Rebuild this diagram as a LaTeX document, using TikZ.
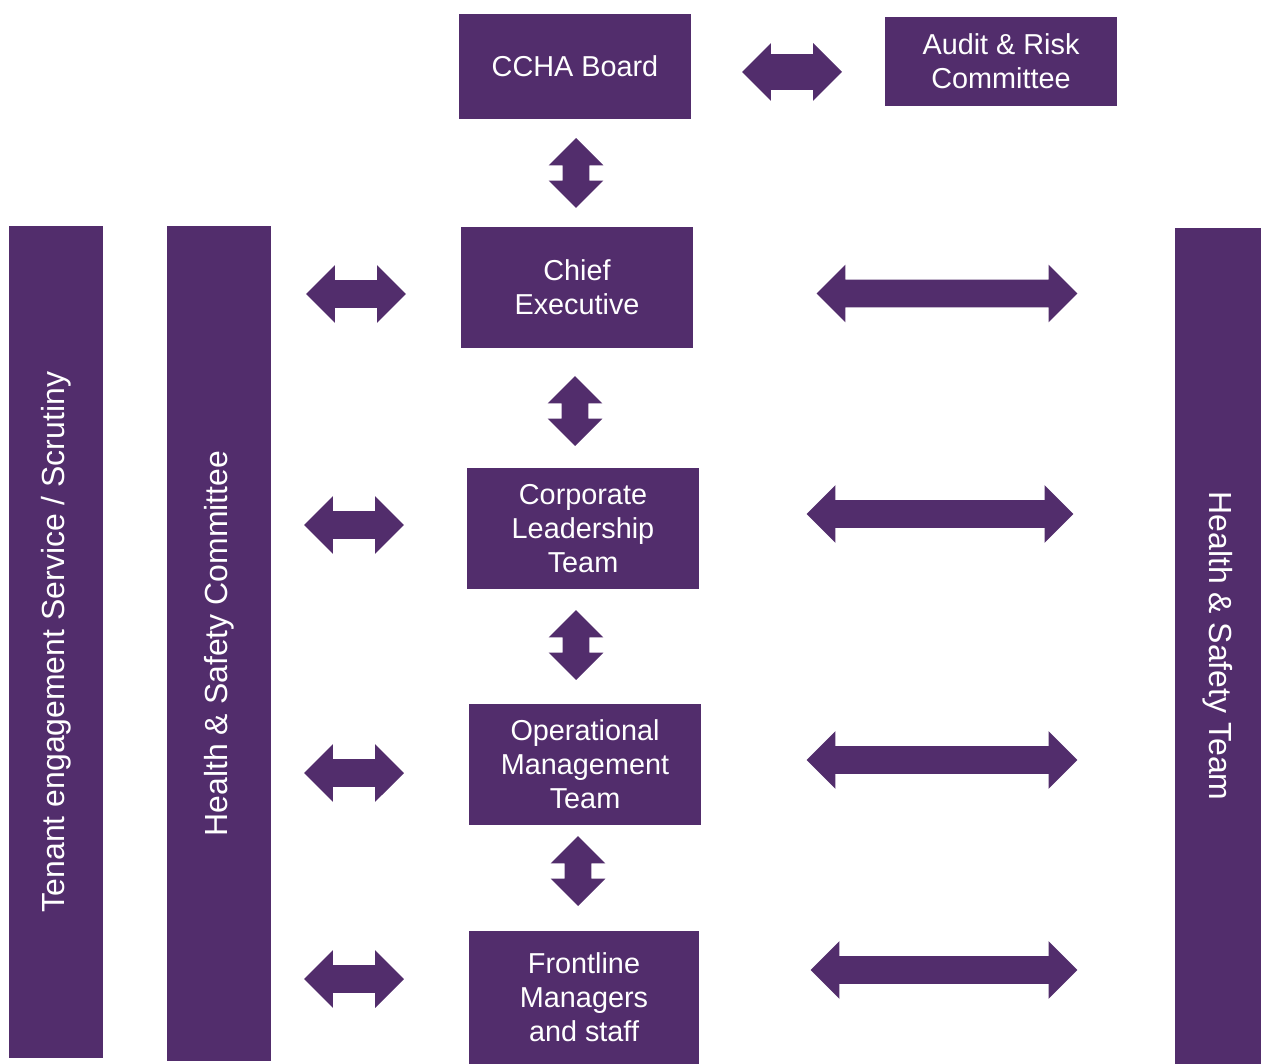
\documentclass[tikz,border=0pt]{standalone}
\usepackage{fontspec}
\setmainfont{Liberation Sans}
\usepackage{xcolor}
\usetikzlibrary{shapes.arrows}
\definecolor{ccha}{RGB}{82,45,108}
\tikzset{box/.style={rectangle,fill=ccha,text=white,align=center,inner sep=0pt,font=\fontsize{16.4}{19.3}\selectfont},
  bar/.style={box,font=\fontsize{18.2}{21}\selectfont},
  twoway/.style={double arrow,fill=ccha,inner xsep=0pt,inner ysep=0.27cm,double arrow head extend=0.3cm,minimum height=#1},
  updown/.style={double arrow,rotate=90,fill=ccha,inner xsep=0pt,inner ysep=0.26cm,double arrow head extend=0.28cm,minimum height=1.4cm}}

\begin{document}
\begin{tikzpicture}[x=0.02cm,y=-0.02cm]
  \useasboundingbox (0,0) rectangle (1261,1064);

  % boxes down the middle
  \node[box,minimum width=4.64cm,minimum height=2.10cm] (board) at (575,66.5) {CCHA Board};
  \node[box,minimum width=4.64cm,minimum height=1.78cm] (audit) at (1001,61.5) {Audit \& Risk\\Committee};
  \node[box,minimum width=4.64cm,minimum height=2.42cm] (chief) at (577,287.5) {Chief\\Executive};
  \node[box,minimum width=4.64cm,minimum height=2.42cm] (clt) at (583,528.5) {Corporate\\Leadership\\Team};
  \node[box,minimum width=4.64cm,minimum height=2.42cm] (omt) at (585,764.5) {Operational\\Management\\Team};
  \node[box,minimum width=4.60cm,minimum height=2.66cm] (front) at (584,997.5) {Frontline\\Managers\\and staff};

  % the tall bars
  \node[bar,rotate=90,minimum width=16.64cm,minimum height=1.88cm] (tenant) at (56,642) {Tenant engagement Service / Scrutiny};
  \node[bar,rotate=90,minimum width=16.70cm,minimum height=2.08cm] (hscomm) at (219,643.5) {Health \& Safety Committee};
  \node[bar,rotate=-90,minimum width=16.72cm,minimum height=1.72cm] (hsteam) at (1218,646) {Health \& Safety Team};

  % arrows
  \node[twoway=2cm,inner ysep=0.35cm,double arrow head extend=0.22cm] (boardaudit) at (792,72) {};
  \node[updown] (boardchief) at (576,173) {};
  \node[updown] (chiefclt) at (575,411) {};
  \node[updown] (cltomt) at (576,645) {};
  \node[updown] (omtfront) at (578,871) {};

  \node[twoway=2cm] (lchief) at (356,294) {};
  \node[twoway=2cm] (lclt) at (354,525) {};
  \node[twoway=2cm] (lomt) at (354,773) {};
  \node[twoway=2cm] (lfront) at (354,979) {};

  \node[twoway=5.22cm] (rchief) at (947,293.5) {};
  \node[twoway=5.34cm] (rclt) at (940,514) {};
  \node[twoway=5.42cm] (romt) at (942,760) {};
  \node[twoway=5.34cm] (rfront) at (944,970) {};
\end{tikzpicture}
\end{document}
